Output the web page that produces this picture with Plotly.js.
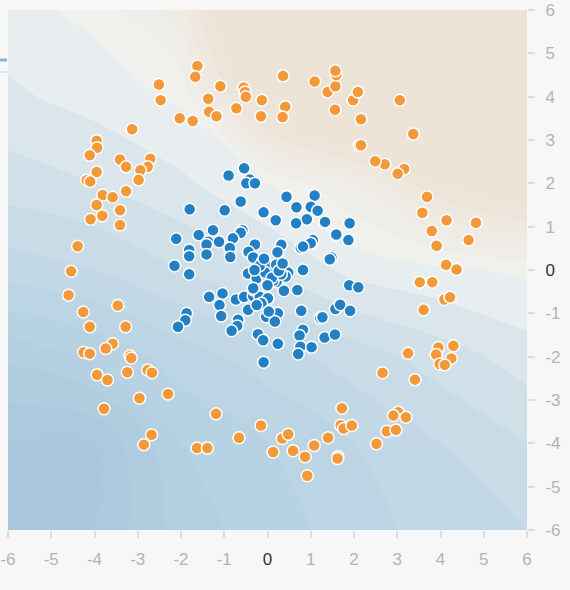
<!DOCTYPE html>
<html>
<head>
<meta charset="utf-8">
<script src="https://cdn.plot.ly/plotly-3.0.1.min.js"></script>
<style>
html,body{margin:0;padding:0;background:#f7f7f7;}
#chart{width:570px;height:590px;}
</style>
</head>
<body>
<div id="chart"></div>
<script>
// Orange class (outer ring)
const orangeX = [-1.62,-1.67,-2.51,-2.47,-1.09,-0.55,-0.52,-0.50,-0.13,-1.37,-0.72,-0.15,-1.35,-1.18,-2.03,-1.73,
 -3.13,-3.95,-3.94,-4.11,-3.41,-3.27,-2.71,-2.77,-2.94,-2.98,-3.95,-4.18,-4.10,-3.27,-3.81,-3.58,-3.95,-3.41,-3.82,-4.09,-3.41,
 -4.39,-4.54,-4.60,-4.26,-3.46,-4.11,-3.28,-3.58,-3.74,-4.25,-4.11,-3.18,-3.15,-3.94,-3.70,-3.24,-2.77,-2.67,-2.96,-2.30,-3.78,
 -1.19,-2.68,-2.86,-1.63,-1.39,-0.66,-0.15,0.13,0.34,0.48,0.59,0.87,0.92,1.08,1.40,1.63,1.62,1.72,1.69,1.76,1.95,
 2.52,2.76,2.97,3.02,2.91,3.20,2.66,3.41,3.25,3.95,3.90,4.30,4.25,3.98,4.10,3.61,4.09,4.22,3.52,3.81,4.13,4.37,
 3.91,4.65,3.80,4.82,4.14,3.58,3.69,3.16,3.01,2.71,2.49,2.12,2.16,3.37,3.06,2.16,1.56,1.98,2.09,1.39,1.57,1.59,1.57,1.09,0.36,0.41,0.35];
const orangeY = [4.71,4.46,4.28,3.92,4.24,4.21,4.11,4.00,3.92,3.95,3.73,3.55,3.65,3.55,3.50,3.44,
 3.25,2.98,2.82,2.65,2.55,2.38,2.57,2.38,2.30,2.08,2.26,2.07,2.04,1.82,1.73,1.68,1.50,1.38,1.25,1.17,1.04,
 0.55,-0.03,-0.58,-0.97,-0.82,-1.31,-1.31,-1.70,-1.81,-1.90,-1.93,-1.98,-2.03,-2.42,-2.54,-2.36,-2.31,-2.37,-2.96,-2.86,-3.20,
 -3.32,-3.80,-4.03,-4.11,-4.11,-3.87,-3.59,-4.20,-3.89,-3.79,-4.17,-4.31,-4.75,-4.05,-3.87,-4.31,-4.35,-3.19,-3.58,-3.66,-3.59,
 -4.01,-3.72,-3.69,-3.28,-3.36,-3.40,-2.37,-2.53,-1.92,-1.79,-1.95,-1.75,-2.04,-2.17,-2.19,-0.92,-0.68,-0.63,-0.28,-0.28,0.12,0.01,
 0.56,0.69,0.90,1.09,1.15,1.32,1.69,2.33,2.22,2.44,2.51,2.87,2.88,3.14,3.92,3.48,3.70,3.92,4.11,4.11,4.24,4.50,4.60,4.35,4.48,3.77,3.53];

// Blue class (inner cluster)
const blueX = [-0.54,-0.90,-0.41,-0.49,-0.29,0.44,1.09,0.67,1.00,1.16,-0.62,-1.80,-0.99,-0.09,0.19,0.91,0.66,1.33,1.90,
 -1.26,-1.59,-0.58,-0.62,-0.80,-2.11,-1.37,-1.12,-1.41,-0.87,-0.29,0.32,0.23,0.77,1.05,1.00,0.82,1.59,1.87,
 -1.81,-1.81,-1.41,-0.86,-0.44,-0.33,1.48,1.44,-2.15,-1.81,-0.12,-0.14,0.05,-0.45,-0.25,-0.02,0.15,0.48,0.82,0.42,0.21,
 0.38,0.69,1.89,2.10,-1.35,-1.04,-0.73,-0.54,-0.33,-0.32,-0.18,0.01,-0.14,-1.11,-0.45,-1.07,-0.68,-0.70,-0.83,
 -1.87,-1.90,-2.07,-0.03,0.24,0.17,0.78,1.22,1.27,1.57,1.68,1.91,0.82,0.74,-0.22,-0.10,0.24,0.76,1.02,0.71,1.32,1.56,
 -0.09,-0.33,-0.02,0.12,0.13,0.32,-0.25,0.03,0.08,-0.06,0.20,-0.18,0.10,0.26,-0.08,0.35,-0.30,0.00];
const blueY = [2.35,2.18,2.09,2.00,2.00,1.69,1.72,1.45,1.46,1.37,1.58,1.40,1.38,1.33,1.15,1.17,1.08,1.11,1.08,
 0.92,0.81,0.92,0.86,0.73,0.72,0.65,0.65,0.59,0.51,0.59,0.58,0.41,0.51,0.69,0.62,0.54,0.82,0.69,
 0.46,0.32,0.36,0.30,0.42,0.29,0.29,0.25,0.10,-0.10,0.19,0.04,0.02,-0.08,-0.19,-0.12,-0.14,-0.06,0.00,-0.15,-0.27,
 -0.48,-0.46,-0.35,-0.40,-0.62,-0.54,-0.68,-0.62,-0.60,-0.46,-0.62,-0.65,-0.77,-0.81,-0.92,-1.06,-1.15,-1.29,-1.40,
 -1.00,-1.16,-1.31,-1.08,-1.00,-1.19,-0.94,-1.11,-1.09,-0.90,-0.80,-0.94,-1.38,-1.51,-1.48,-1.62,-1.70,-1.77,-1.78,-1.94,-1.56,-1.49,
 -2.13,-0.42,0.13,-0.04,-0.25,-0.10,-0.81,-0.96,0.08,-0.05,0.12,0.10,-0.18,-0.02,0.26,0.15,0.00,-0.35];

// Background field (negative = blue, positive = orange)
const gridX = [-6,-4,-2,0,2,4,6];
const gridY = [-6,-4,-2,0,2,4,6];
const gridZ = [
 [-1.00,-1.00,-0.75,-0.65,-0.55,-0.45,-0.40],
 [-1.00,-1.00,-0.70,-0.60,-0.50,-0.40,-0.30],
 [-0.78,-0.68,-0.55,-0.45,-0.35,-0.25,-0.15],
 [-0.45,-0.40,-0.30,-0.20,-0.07,-0.02, 0.02],
 [-0.25,-0.20,-0.12, 0.00, 0.20, 0.50, 0.70],
 [-0.12,-0.06, 0.02, 0.70, 1.00, 1.00, 1.00],
 [-0.04, 0.03, 0.25, 1.00, 1.00, 1.00, 1.00]
];

const tickVals = [-6,-5,-4,-3,-2,-1,0,1,2,3,4,5,6];
const tickText = ['-6','-5','-4','-3','-2','-1','<span style="color:#333">0</span>','1','2','3','4','5','6'];

const font = {family:'"Liberation Sans", Arial, Helvetica, sans-serif', size:17, color:'#b3b3b3'};

const traces = [
 {
  type:'contour', x:gridX, y:gridY, z:gridZ, zmin:-1, zmax:1,
  autocontour:false, contours:{start:-1, end:1, size:0.1, coloring:'fill'},
  line:{width:0, smoothing:1}, showscale:false, hoverinfo:'skip',
  colorscale:[
   [0,'rgb(170,200,221)'],[0.2,'rgb(185,211,227)'],[0.35,'rgb(203,221,232)'],
   [0.45,'rgb(224,232,237)'],[0.5,'rgb(240,241,240)'],[0.6,'rgb(239,235,229)'],
   [0.75,'rgb(237,228,216)'],[1,'rgb(236,227,214)']
  ]
 },
 {
  type:'scatter', mode:'markers', x:orangeX, y:orangeY, name:'orange',
  marker:{size:12, color:'#f4993a', line:{color:'#ffffff', width:1.5}}
 },
 {
  type:'scatter', mode:'markers', x:blueX, y:blueY, name:'blue',
  marker:{size:12, color:'#2380c4', line:{color:'#ffffff', width:1.5}}
 }
];

const axisCommon = {
 range:[-6,6], tickmode:'array', tickvals:tickVals, ticktext:tickText,
 ticks:'outside', ticklen:7, tickwidth:2, tickcolor:'#dddddd',
 tickfont:font, showgrid:false, zeroline:false, showline:false, fixedrange:true,
 ticklabelstandoff:7
};

const layout = {
 width:570, height:590,
 margin:{l:8, r:43, t:10, b:60, pad:0},
 paper_bgcolor:'#f7f7f7', plot_bgcolor:'#f7f7f7',
 showlegend:false,
 xaxis:Object.assign({}, axisCommon),
 yaxis:Object.assign({}, axisCommon, {side:'right'}),
 shapes:[
  {type:'line', xref:'paper', yref:'paper', x0:-8/519, x1:-1/519, y0:470/520, y1:470/520, line:{color:'#86b5da', width:3}},
  {type:'line', xref:'paper', yref:'paper', x0:-8/519, x1:-1/519, y0:458/520, y1:458/520, line:{color:'#d9e3ec', width:2}}
 ]
};

Plotly.newPlot('chart', traces, layout, {displayModeBar:false, staticPlot:true});
</script>
</body>
</html>
